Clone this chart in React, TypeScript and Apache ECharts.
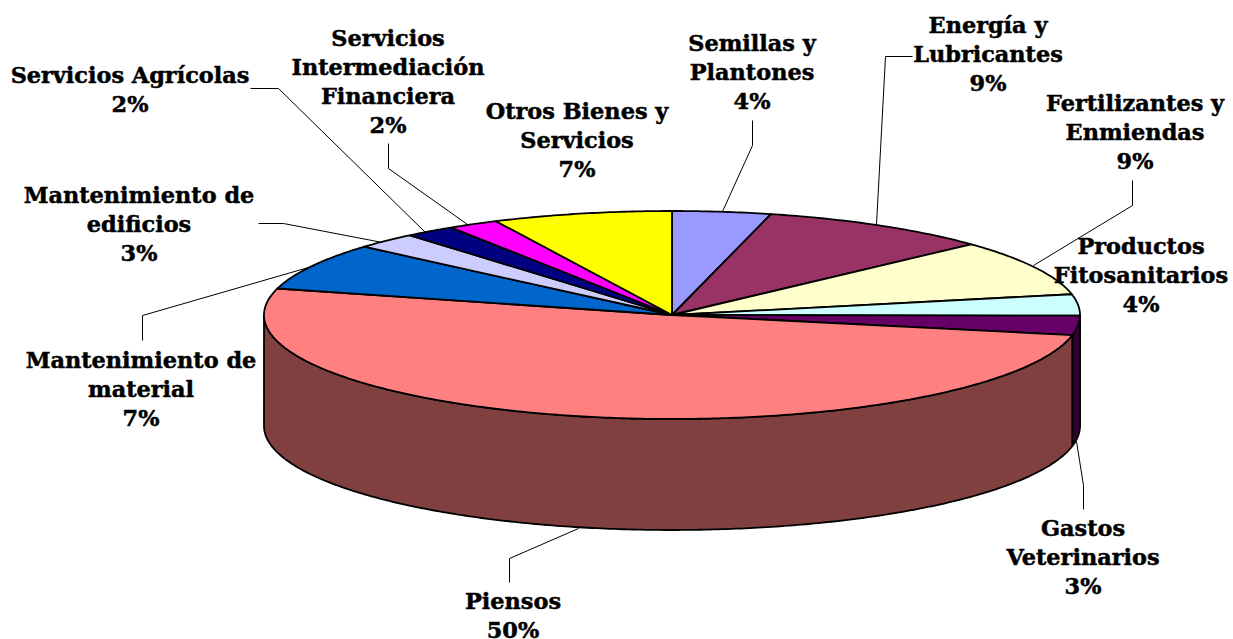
import React, { useEffect, useRef } from "react";
import * as echarts from "echarts";

const categories = [
  "Semillas y\nPlantones",
  "Energía y\nLubricantes",
  "Fertilizantes y\nEnmiendas",
  "Productos\nFitosanitarios",
  "Gastos\nVeterinarios",
  "Piensos",
  "Mantenimiento de\nmaterial",
  "Mantenimiento de\nedificios",
  "Servicios Agrícolas",
  "Servicios\nIntermediación\nFinanciera",
  "Otros Bienes y\nServicios",
];
const values = [3.9, 9.2, 8.7, 3.3, 3.0, 51.0, 7.3, 2.5, 2.0, 2.0, 7.1];
// Percentages as printed in the labels
const printedPercents = [4, 9, 9, 4, 3, 50, 7, 3, 2, 2, 7];
const topColors = ["#9999FF", "#993366", "#FFFFCC", "#CCFFFF", "#660066", "#FF8080", "#0066CC", "#CCCCFF", "#000080", "#FF00FF", "#FFFF00"];
const sideColors = ["#4D4D80", "#4D1A33", "#808066", "#668080", "#330033", "#804040", "#003366", "#666680", "#000040", "#800080", "#808000"];

// Label centres: x, y of first line
const labelAnchors = [
  [752, 43], [988, 25], [1135, 103], [1141, 246], [1083, 528], [513, 601],
  [141, 360], [139, 195], [130, 75], [388, 38], [577, 111],
];
const leaderLines = [
  [[752, 120], [752, 145], [722, 211]],
  [[912, 56], [885, 56], [876, 224]],
  [[1132, 180], [1132, 205], [1033, 265]],
  [[1076, 441], [1083, 485], [1083, 509]],
  [[578, 528], [509, 558], [509, 582]],
  [[142, 340], [142, 315], [308, 267]],
  [[258, 223], [283, 223], [382, 242]],
  [[250, 88], [278, 88], [425, 232]],
  [[388, 143], [388, 168], [467, 224]],
];

const CX = 672;
const CY = 315;
const RX = 408;
const RY = 104;
const DEPTH = 111;
const LINE_H = 29;
const FONT = "'DejaVu Serif', serif";

const total = values.reduce((a, b) => a + b, 0);
const sliceAngles = (i: number): [number, number] => {
  let before = 0;
  for (let k = 0; k < i; k++) before += values[k];
  return [(before / total) * 2 * Math.PI, ((before + values[i]) / total) * 2 * Math.PI];
};
const rim = (a: number, dy = 0): number[] => [CX + RX * Math.sin(a), CY - RY * Math.cos(a) + dy];
const arc = (a0: number, a1: number, dy = 0): number[][] => {
  const n = Math.max(2, Math.ceil(Math.abs(a1 - a0) * 90));
  const pts: number[][] = [];
  for (let k = 0; k <= n; k++) pts.push(rim(a0 + ((a1 - a0) * k) / n, dy));
  return pts;
};

const renderWall = (params: any) => {
  const [a0, a1] = sliceAngles(params.dataIndex);
  const lo = Math.max(a0, Math.PI / 2);
  const hi = Math.min(a1, (3 * Math.PI) / 2);
  if (hi <= lo) return { type: "group", children: [] };
  return {
    type: "polygon",
    shape: { points: [...arc(lo, hi), ...arc(hi, lo, DEPTH)] },
    style: { fill: sideColors[params.dataIndex], stroke: "#000", lineWidth: 1.8, lineJoin: "round" },
  };
};
const renderTop = (params: any) => {
  const [a0, a1] = sliceAngles(params.dataIndex);
  return {
    type: "polygon",
    shape: { points: [[CX, CY], ...arc(a0, a1)] },
    style: { fill: topColors[params.dataIndex], stroke: "#000", lineWidth: 1.8, lineJoin: "round" },
  };
};

export default function App() {
  const ref = useRef<HTMLDivElement>(null);
  useEffect(() => {
    document.body.style.margin = "0";
    document.body.style.background = "#fff";
    const chart = echarts.init(ref.current!, undefined, { renderer: "svg" });
    const seriesData = categories.map((c, i) => ({ name: c, value: values[i] }));
    const lines = leaderLines.map((pts) => ({
      type: "polyline",
      z: 5,
      silent: true,
      shape: { points: pts.map(([x, y]) => [x + 0.5, y + 0.5]) },
      style: { fill: "none", stroke: "#000", lineWidth: 1 },
    }));
    const texts: any[] = [];
    categories.forEach((c, i) => {
      const rows = [...c.split("\n"), `${printedPercents[i]}%`];
      rows.forEach((row, r) => {
        texts.push({
          type: "text",
          z: 6,
          silent: true,
          x: labelAnchors[i][0],
          y: labelAnchors[i][1] + r * LINE_H,
          style: {
            text: row,
            fill: "#000",
            stroke: "#000",
            lineWidth: 0.5,
            font: `bold 22.4px ${FONT}`,
            textAlign: "center",
            textVerticalAlign: "middle",
          },
        });
      });
    });
    chart.setOption({
      animation: false,
      backgroundColor: "#fff",
      series: [
        { type: "custom", coordinateSystem: "none", z: 1, silent: true, data: seriesData, renderItem: renderWall },
        { type: "custom", coordinateSystem: "none", z: 2, silent: true, data: seriesData, renderItem: renderTop },
      ],
      graphic: [...lines, ...texts],
    });
    return () => chart.dispose();
  }, []);
  return <div ref={ref} style={{ position: "absolute", left: 0, top: 0, width: 1233, height: 639 }} />;
}
